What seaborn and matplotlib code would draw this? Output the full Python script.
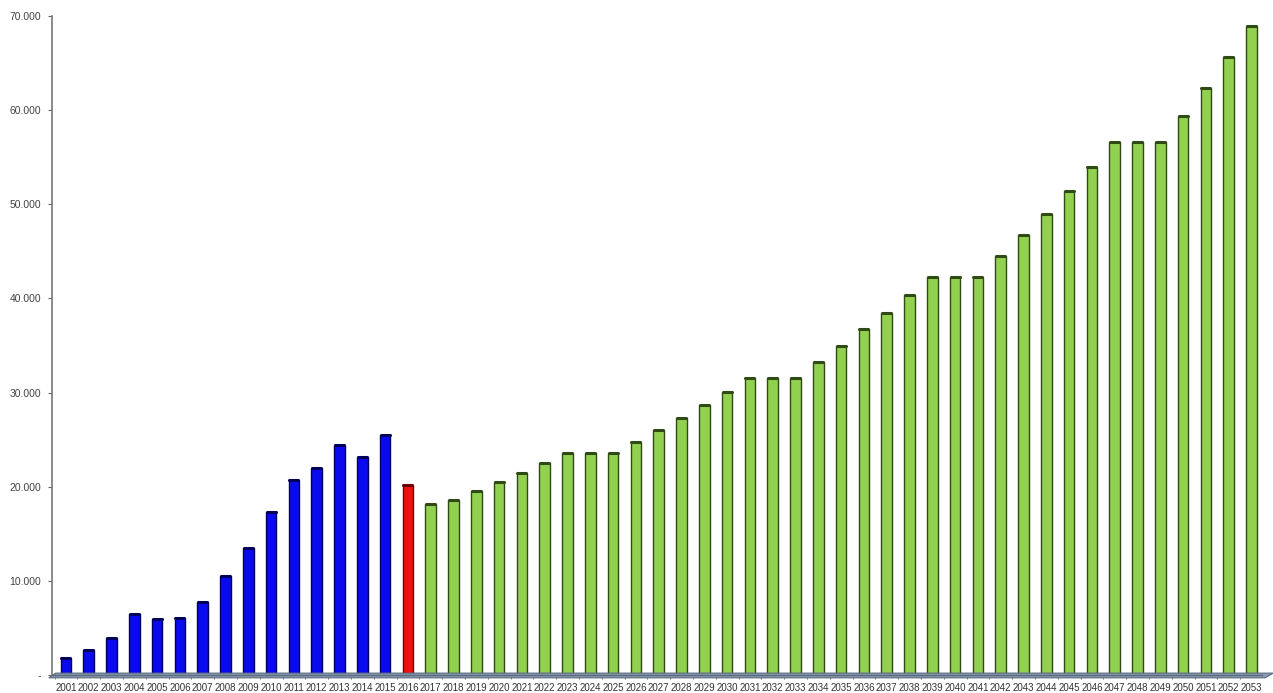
import numpy as np
import pandas as pd
import seaborn as sns
import matplotlib.pyplot as plt
from matplotlib.patches import Polygon
from matplotlib.ticker import FuncFormatter, FixedLocator

years = [str(y) for y in range(2001, 2054)]
values = [
    1840, 2660, 3970, 6450, 5900, 6100, 7800, 10500, 13500, 17300,
    20700, 22000, 24400, 23200, 25500, 20200,
    18200, 18600, 19550, 20500, 21500, 22500, 23600, 23600, 23600, 24800,
    26000, 27300, 28700, 30100, 31600, 31600, 31600, 33200, 34900, 36700,
    38500, 40400, 42300, 42300, 42300, 44500, 46700, 49000, 51400, 53950,
    56600, 56600, 56600, 59400, 62400, 65600, 68900,
]
period = ['real'] * 15 + ['actual'] + ['proyeccion'] * 37

colors = {'real': '#0a0af0', 'actual': '#f01010', 'proyeccion': '#92d050'}
edges = {'real': '#00005a', 'actual': '#6a0000', 'proyeccion': '#2f4a14'}

df = pd.DataFrame({'year': years, 'value': values, 'period': period})

sns.set_style('white')
plt.rcParams['font.family'] = ['Liberation Sans', 'DejaVu Sans']
fig = plt.figure(figsize=(12.73, 6.93), dpi=100)
ax = fig.add_axes([52 / 1273, 1 - 675 / 693, 1210 / 1273, 659 / 693])

sns.barplot(data=df, x='year', y='value', hue='period', palette=colors,
            dodge=False, width=0.46, legend=False, ax=ax, saturation=1)

for bar, p in zip(ax.patches, period):
    bar.set_edgecolor(edges[p])
    bar.set_linewidth(1.0)

# tapas de los cilindros
for i, (v, p) in enumerate(zip(values, period)):
    ax.plot([i - 0.2, i + 0.2], [v, v], color=edges[p], lw=2.2,
            solid_capstyle='round', zorder=3)

# suelo 3D
floor = Polygon([(-0.75, -300), (52.6, -300), (52.95, 200), (-0.45, 200)],
                closed=True, facecolor='#8a9bb0', edgecolor='#5a6a80',
                lw=0.8, clip_on=False, zorder=1)
ax.add_patch(floor)

ax.set_xlim(-0.61, 52.46)
ax.set_ylim(0, 70000)
ax.set_yticks(range(0, 70001, 10000))
ax.yaxis.set_major_formatter(FuncFormatter(
    lambda v, _: '-' if v == 0 else f'{int(v):,}'.replace(',', '.')))
ax.set_xlabel('')
ax.set_ylabel('')

ax.xaxis.set_minor_locator(FixedLocator(np.arange(-0.5, 53, 1)))
ax.tick_params(axis='x', which='major', length=0, labelsize=7,
               labelcolor='#333333', pad=6)
ax.tick_params(axis='x', which='minor', length=3, color='#666666',
               direction='out', bottom=True)
ax.tick_params(axis='y', length=3, color='#666666', direction='out',
               left=True, labelsize=7.5, labelcolor='#444444', pad=5)

for s in ['top', 'right']:
    ax.spines[s].set_visible(False)
ax.spines['left'].set_color('#777777')
ax.spines['left'].set_linewidth(1.2)
ax.spines['bottom'].set_color('#5a6a80')
ax.spines['bottom'].set_linewidth(1.0)

fig.savefig('out.png', dpi=100)
